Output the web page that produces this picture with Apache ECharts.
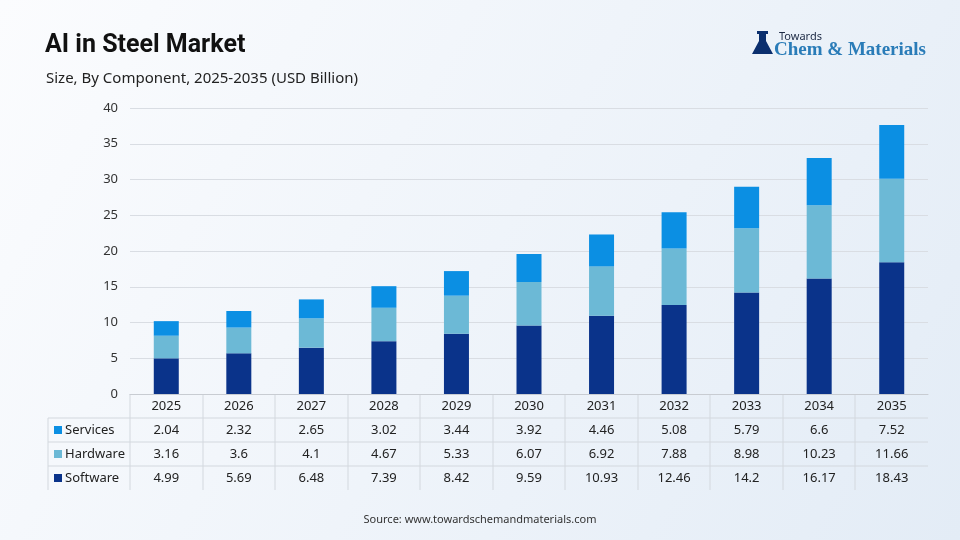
<!DOCTYPE html>
<html>
<head>
<meta charset="utf-8">
<script src="https://cdn.jsdelivr.net/npm/echarts@6/dist/echarts.min.js"></script>
<style>
  html, body { margin: 0; padding: 0; }
  #main { width: 960px; height: 540px; }
</style>
</head>
<body>
<div id="main"></div>
<script>
// data
var years = ['2025','2026','2027','2028','2029','2030','2031','2032','2033','2034','2035'];
var software = [4.99, 5.69, 6.48, 7.39, 8.42, 9.59, 10.93, 12.46, 14.2, 16.17, 18.43];
var hardware = [3.16, 3.6, 4.1, 4.67, 5.33, 6.07, 6.92, 7.88, 8.98, 10.23, 11.66];
var services = [2.04, 2.32, 2.65, 3.02, 3.44, 3.92, 4.46, 5.08, 5.79, 6.6, 7.52];

var colors = { Software: '#0a338a', Hardware: '#6cb9d6', Services: '#0b8fe3' };
var tableRows = [
  { name: 'Services', data: services },
  { name: 'Hardware', data: hardware },
  { name: 'Software', data: software }
];

var font = "'Noto Sans', 'Open Sans', sans-serif";
var myChart = echarts.init(document.getElementById('main'));

var option = {
  backgroundColor: new echarts.graphic.LinearGradient(0, 0, 1, 1, [
    { offset: 0, color: '#fbfcfe' },
    { offset: 1, color: '#e3ecf6' }
  ]),
  title: [{
    text: 'AI in Steel Market',
    left: 40, top: 28,
    textStyle: { fontFamily: "'Liberation Sans Narrow', 'Roboto', sans-serif", fontWeight: 'bold', fontSize: 25, color: '#111' }
  }, {
    text: 'Size, By Component, 2025-2035 (USD Billion)',
    left: 41, top: 66,
    textStyle: { fontFamily: font, fontWeight: 'normal', fontSize: 15, color: '#222' }
  }, {
    text: 'Source: www.towardschemandmaterials.com',
    left: 'center', top: 509,
    textStyle: { fontFamily: font, fontWeight: 'normal', fontSize: 11, color: '#333' }
  }],
  grid: { left: 130, right: 32, top: 108, bottom: 146 },
  xAxis: {
    type: 'category',
    data: years,
    axisTick: { show: false },
    axisLabel: { show: false },
    axisLine: { lineStyle: { color: '#c8ccd2' } }
  },
  yAxis: {
    type: 'value',
    min: 0, max: 40, interval: 5,
    axisLabel: { fontFamily: font, fontSize: 13, color: '#333', margin: 12 },
    splitLine: { lineStyle: { color: '#d9dde3' } }
  },
  series: [
    { name: 'Software', type: 'bar', stack: 'a', barWidth: 25, data: software, itemStyle: { color: colors.Software } },
    { name: 'Hardware', type: 'bar', stack: 'a', barWidth: 25, data: hardware, itemStyle: { color: colors.Hardware } },
    { name: 'Services', type: 'bar', stack: 'a', barWidth: 25, data: services, itemStyle: { color: colors.Services } }
  ]
};
myChart.setOption(option);

// data table under the axis
var graphics = [];
var lineColor = '#d3d8de';
var right = 928, tableLeft = 48;
var axisY = 394, rowH = 24;
var xs = years.map(function (y) { return myChart.convertToPixel({ xAxisIndex: 0 }, y); });
var step = xs[1] - xs[0];

// horizontal lines
[axisY + rowH, axisY + rowH * 2, axisY + rowH * 3].forEach(function (y) {
  graphics.push({ type: 'line', shape: { x1: tableLeft, y1: y, x2: right, y2: y }, style: { stroke: lineColor, lineWidth: 1 } });
});
// vertical lines
graphics.push({ type: 'line', shape: { x1: tableLeft, y1: axisY + rowH, x2: tableLeft, y2: axisY + rowH * 4 }, style: { stroke: lineColor } });
for (var i = 0; i < years.length; i++) {
  var vx = Math.round(xs[0] - step / 2 + i * step);
  graphics.push({ type: 'line', shape: { x1: vx, y1: axisY, x2: vx, y2: axisY + rowH * 4 }, style: { stroke: lineColor } });
}
// year header
years.forEach(function (y, i) {
  graphics.push({ type: 'text', x: xs[i], y: axisY + rowH / 2, style: { text: y, fontFamily: font, fontSize: 13, fill: '#222', align: 'center', verticalAlign: 'middle' } });
});
// rows
tableRows.forEach(function (r, ri) {
  var cy = axisY + rowH * (ri + 1) + rowH / 2;
  graphics.push({ type: 'rect', shape: { x: 54, y: cy - 4, width: 8, height: 8 }, style: { fill: colors[r.name] } });
  graphics.push({ type: 'text', x: 65, y: cy, style: { text: r.name, fontFamily: font, fontSize: 13, fill: '#222', align: 'left', verticalAlign: 'middle' } });
  r.data.forEach(function (v, i) {
    graphics.push({ type: 'text', x: xs[i], y: cy, style: { text: String(v), fontFamily: font, fontSize: 13, fill: '#222', align: 'center', verticalAlign: 'middle' } });
  });
});

// logo
graphics.push({ type: 'polygon', shape: { points: [[759, 34], [766, 34], [766, 41], [773, 54], [752, 54], [759, 41]] }, style: { fill: '#0b2f6e' } });
graphics.push({ type: 'rect', shape: { x: 757, y: 31, width: 11, height: 3 }, style: { fill: '#0b2f6e' } });
graphics.push({ type: 'text', x: 779, y: 37, style: { text: 'Towards', fontFamily: font, fontSize: 11, fill: '#1d2a44', verticalAlign: 'middle' } });
graphics.push({ type: 'text', x: 774, y: 50, style: { text: 'Chem & Materials', fontFamily: "'Liberation Serif', serif", fontSize: 19, fontWeight: 'bold', fill: '#2a7cb8', verticalAlign: 'middle' } });

myChart.setOption({ graphic: graphics });
</script>
</body>
</html>
